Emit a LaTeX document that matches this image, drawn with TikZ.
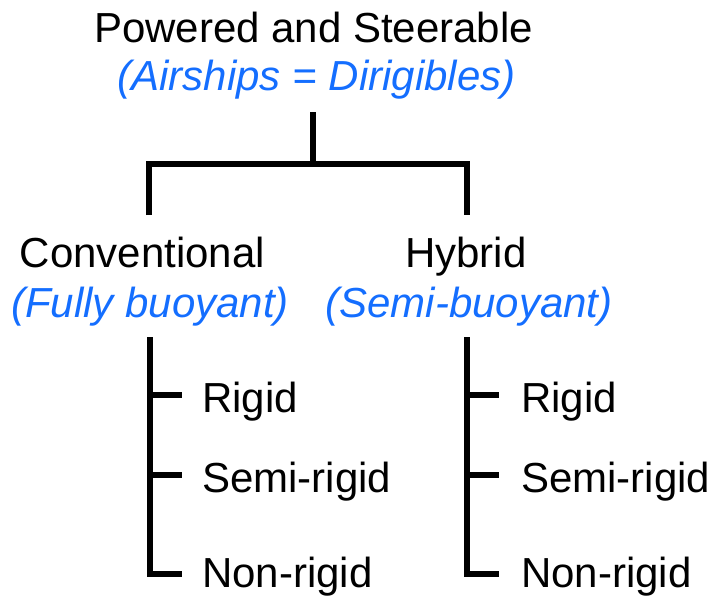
\documentclass[tikz,border=0pt]{standalone}
\usepackage{fontspec}
\setmainfont{Liberation Sans}
\definecolor{subblue}{RGB}{20,110,255}
\tikzset{
  label/.style={anchor=base, inner sep=0pt, font=\fontsize{42}{50}\selectfont},
  sublabel/.style={label, text=subblue, font=\fontsize{42}{50}\selectfont\itshape},
  leaf/.style={label, anchor=base west},
  bar/.style={line width=6pt, line join=miter, line cap=butt}
}
\begin{document}
\begin{tikzpicture}[x=1pt, y=-1pt]
    \useasboundingbox (0,0) rectangle (714,595);
    % titles
    \node[label] (powered) at (313.5,42) {Powered and Steerable};
    \node[sublabel] (airships) at (316.5,90) {(Airships = Dirigibles)};
    \node[label] (conv) at (142.5,267) {Conventional};
    \node[sublabel] (fully) at (150,317) {(Fully buoyant)};
    \node[label] (hybrid) at (466,267) {Hybrid};
    \node[sublabel] (semib) at (469,317) {(Semi-buoyant)};
    % fork
    \coordinate (stem) at (313,112);
    \coordinate (fork) at (313,164);
    \coordinate (lleg) at (149,215);
    \coordinate (rleg) at (467,215);
    \draw[bar] (stem) -- (fork);
    \draw[bar] (lleg) |- (fork) -| (rleg);
    % kinds
    \foreach \n/\t/\b in {rig/Rigid/412, semi/Semi-rigid/492, non/Non-rigid/587} {
      \node[leaf] (l\n) at (202,\b) {\t};
      \node[leaf] (r\n) at (521,\b) {\t};
    }
    \foreach \x in {150, 467} {
      \draw[bar] (\x,337) |- (\x+32,574);
      \foreach \y in {395, 475} { \draw[bar] (\x,\y) -- (\x+32,\y); }
    }
  \end{tikzpicture}
\end{document}
